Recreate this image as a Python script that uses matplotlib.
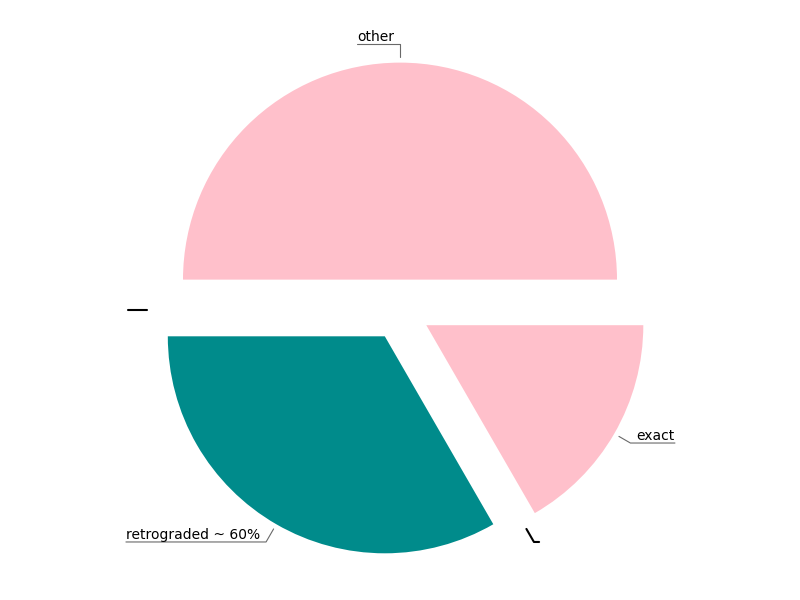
import matplotlib
matplotlib.use('Agg')
import matplotlib.pyplot as plt
import numpy as np

# wedge data (counter-clockwise from 3 o'clock); zero entries are empty markers
labels = ['other', '', 'retrograded ~ 60%', '', 'exact']
values = [3, 0, 2, 0, 1]
colors = ['pink', 'pink', 'darkcyan', 'darkcyan', 'pink']

# label anchor points (data units) and alignment
label_pos = [(-0.198, 1.226), (-1.253, 0.0), (-1.263, -1.069), (0.641, -1.069), (1.267, -0.613)]
label_ha = ['left', 'left', 'left', 'right', 'right']

fig = plt.figure(figsize=(8, 6), dpi=100)
ax = fig.add_axes([0, 0, 1, 1])

ax.pie(values, colors=colors, explode=[0.14] * len(values),
       startangle=0, counterclock=True, radius=1.0)

total = float(sum(values))
start = 0.0
for lab, val, pos, ha in zip(labels, values, label_pos, label_ha):
    theta = start + 360.0 * val / total / 2
    start += 360.0 * val / total
    t = np.radians(theta)
    xy = (1.165 * np.cos(t), 1.165 * np.sin(t))
    angle_b = theta if abs(np.sin(t)) > 0.01 else 90
    if lab:
        lc, lw = 'dimgray', 0.8
    else:
        lc, lw = 'black', 1.5
    ax.annotate(lab, xy=xy, xytext=pos, ha=ha, va='bottom', fontsize=10,
                arrowprops=dict(arrowstyle='-', color=lc, lw=lw,
                                shrinkA=0, shrinkB=0, patchA=None,
                                relpos=(0, 0) if ha == 'left' else (1, 0),
                                connectionstyle=f'angle,angleA=0,angleB={angle_b}'))

ax.set_xlim(-400 / 217, 400 / 217)
ax.set_ylim(-290 / 217, 310 / 217)
ax.set_aspect('auto')
ax.axis('off')

fig.savefig('out.png')
plt.close(fig)
